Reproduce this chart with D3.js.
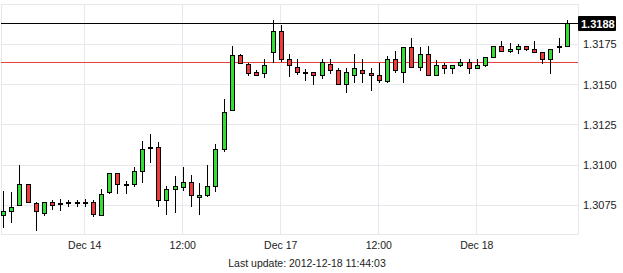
<!DOCTYPE html>
<html>
<head>
<meta charset="utf-8">
<script src="https://cdn.jsdelivr.net/npm/d3@7"></script>
<style>
  body { margin: 0; background: #fff; }
  svg { display: block; font-family: "Liberation Sans", Arial, sans-serif; }
</style>
</head>
<body>
<svg id="chart" width="623" height="273"></svg>
<script>
// hourly candles, Dec 13 14:00 .. Dec 18 11:00 (weekend gap removed)
const opens = [
  1.30688, 1.30713, 1.30750, 1.30880, 1.30762, 1.30698, 1.30769, 1.30764, 1.30766, 1.30766,
  1.30766, 1.30769, 1.30688, 1.30828, 1.30949, 1.30880, 1.30880, 1.30963, 1.31100, 1.31112,
  1.30781, 1.30849, 1.30862, 1.30889, 1.30800, 1.30812, 1.30868, 1.31098, 1.31340, 1.31682,
  1.31626, 1.31576, 1.31570, 1.31700, 1.31830, 1.31657, 1.31607, 1.31576, 1.31572, 1.31557,
  1.31626, 1.31589, 1.31502, 1.31557, 1.31589, 1.31570, 1.31557, 1.31518, 1.31657, 1.31576,
  1.31731, 1.31607, 1.31688, 1.31556, 1.31620, 1.31601, 1.31620, 1.31636, 1.31601, 1.31620,
  1.31669, 1.31735, 1.31707, 1.31719, 1.31735, 1.31719, 1.31700, 1.31657, 1.31739, 1.31739];
const highs = [
  1.30839, 1.30833, 1.31000, 1.30880, 1.30772, 1.30769, 1.30783, 1.30787, 1.30783, 1.30783,
  1.30787, 1.30783, 1.30851, 1.30949, 1.30949, 1.30901, 1.30988, 1.31149, 1.31193, 1.31143,
  1.30872, 1.30934, 1.30990, 1.30938, 1.30889, 1.31000, 1.31131, 1.31410, 1.31739, 1.31690,
  1.31634, 1.31590, 1.31659, 1.31901, 1.31870, 1.31690, 1.31657, 1.31598, 1.31572, 1.31657,
  1.31657, 1.31601, 1.31601, 1.31690, 1.31657, 1.31601, 1.31636, 1.31677, 1.31708, 1.31731,
  1.31789, 1.31735, 1.31739, 1.31652, 1.31636, 1.31620, 1.31657, 1.31657, 1.31657, 1.31669,
  1.31735, 1.31769, 1.31756, 1.31752, 1.31735, 1.31769, 1.31700, 1.31719, 1.31787, 1.31901];
const lows = [
  1.30611, 1.30642, 1.30750, 1.30766, 1.30592, 1.30685, 1.30721, 1.30717, 1.30741, 1.30741,
  1.30741, 1.30676, 1.30688, 1.30822, 1.30822, 1.30822, 1.30866, 1.30887, 1.31015, 1.30741,
  1.30688, 1.30704, 1.30841, 1.30741, 1.30688, 1.30803, 1.30833, 1.31083, 1.31340, 1.31628,
  1.31555, 1.31557, 1.31543, 1.31632, 1.31638, 1.31544, 1.31562, 1.31524, 1.31495, 1.31533,
  1.31564, 1.31502, 1.31446, 1.31512, 1.31508, 1.31462, 1.31512, 1.31508, 1.31570, 1.31512,
  1.31607, 1.31586, 1.31557, 1.31556, 1.31564, 1.31564, 1.31607, 1.31564, 1.31595, 1.31607,
  1.31663, 1.31707, 1.31694, 1.31688, 1.31707, 1.31694, 1.31626, 1.31564, 1.31694, 1.31739];
const closes = [
  1.30713, 1.30738, 1.30880, 1.30766, 1.30710, 1.30769, 1.30750, 1.30764, 1.30766, 1.30766,
  1.30766, 1.30690, 1.30818, 1.30949, 1.30880, 1.30880, 1.30963, 1.31098, 1.31112, 1.30781,
  1.30849, 1.30870, 1.30889, 1.30812, 1.30814, 1.30870, 1.31094, 1.31328, 1.31682, 1.31628,
  1.31570, 1.31557, 1.31620, 1.31830, 1.31657, 1.31620, 1.31576, 1.31576, 1.31557, 1.31636,
  1.31589, 1.31502, 1.31576, 1.31601, 1.31570, 1.31557, 1.31526, 1.31657, 1.31589, 1.31731,
  1.31607, 1.31688, 1.31557, 1.31620, 1.31601, 1.31620, 1.31636, 1.31601, 1.31620, 1.31669,
  1.31735, 1.31707, 1.31719, 1.31735, 1.31719, 1.31698, 1.31657, 1.31719, 1.31739, 1.31880];

const yTicks = [1.3075, 1.3100, 1.3125, 1.3150, 1.3175];
const xTickIndex = [10, 22, 34, 46, 58];
const xTickLabels = ["Dec 14", "12:00", "Dec 17", "12:00", "Dec 18"];
const refLevel = 1.31638;
const lastUpdate = "Last update: 2012-12-18 11:44:03";

const candles = opens.map((o, i) => ({ i, o, h: highs[i], l: lows[i], c: closes[i] }));
const lastPrice = closes[closes.length - 1];

const plotLeft = 1, plotRight = 578, plotTop = 4, plotBottom = 234;

const svg = d3.select("#chart");

const x = d3.scaleLinear().domain([0, candles.length - 1]).range([3.5, 567.2]);
const y = d3.scaleLinear().domain([1.30572, 1.3200]).range([plotBottom, plotTop]);

const px = v => Math.floor(v) + 0.5;
const gridColor = "#e6e8ee";

// frame + grid
svg.append("rect")
    .attr("x", plotLeft + 0.5).attr("y", plotTop + 0.5)
    .attr("width", plotRight - plotLeft).attr("height", plotBottom - plotTop)
    .attr("fill", "none").attr("stroke", gridColor);

svg.append("g").selectAll("line")
    .data(yTicks)
  .join("line")
    .attr("x1", plotLeft).attr("x2", plotRight)
    .attr("y1", d => px(y(d))).attr("y2", d => px(y(d)))
    .attr("stroke", gridColor);

svg.append("g").selectAll("line")
    .data(xTickIndex)
  .join("line")
    .attr("x1", d => px(x(d)) - 1).attr("x2", d => px(x(d)) - 1)
    .attr("y1", plotTop).attr("y2", plotBottom)
    .attr("stroke", gridColor);

// axes (labels only)
const yAxis = d3.axisRight(y).tickValues(yTicks).tickSize(0).tickPadding(5)
    .tickFormat(d3.format(".4f"));
svg.append("g")
    .attr("transform", `translate(${plotRight},0)`)
    .call(yAxis)
    .call(g => g.select(".domain").remove())
    .call(g => g.selectAll("text").attr("fill", "#222").style("font-size", "11px"));

const xAxis = d3.axisBottom(x).tickValues(xTickIndex).tickSize(0).tickPadding(8)
    .tickFormat((d, i) => xTickLabels[i]);
svg.append("g")
    .attr("transform", `translate(-1,${plotBottom})`)
    .call(xAxis)
    .call(g => g.select(".domain").remove())
    .call(g => g.selectAll("text").attr("fill", "#222").style("font-size", "10.5px"));

// reference line
svg.append("line")
    .attr("x1", plotLeft).attr("x2", plotRight)
    .attr("y1", px(y(refLevel))).attr("y2", px(y(refLevel)))
    .attr("stroke", "#e8403f");

// candles
const cg = svg.append("g");
cg.selectAll("line.wick")
    .data(candles)
  .join("line")
    .attr("class", "wick")
    .attr("x1", d => px(x(d.i))).attr("x2", d => px(x(d.i)))
    .attr("y1", d => Math.round(y(d.h))).attr("y2", d => Math.round(y(d.l)))
    .attr("stroke", "#000");

cg.selectAll("rect.body")
    .data(candles)
  .join("rect")
    .attr("class", "body")
    .attr("x", d => px(x(d.i)) - 2)
    .attr("width", 4)
    .attr("y", d => px(y(Math.max(d.o, d.c))))
    .attr("height", d => Math.max(1, px(y(Math.min(d.o, d.c))) - px(y(Math.max(d.o, d.c)))))
    .attr("fill", d => d.c > d.o ? "#33dd33" : d.c < d.o ? "#f03a3a" : "#000")
    .attr("stroke", "#000");

// last price line + label
const ly = px(y(lastPrice));
svg.append("line")
    .attr("x1", plotLeft).attr("x2", plotRight)
    .attr("y1", ly).attr("y2", ly)
    .attr("stroke", "#000");
svg.append("rect")
    .attr("x", plotRight).attr("y", ly - 7.5)
    .attr("width", 38).attr("height", 15)
    .attr("rx", 1)
    .attr("fill", "#000");
svg.append("text")
    .attr("x", plotRight + 3).attr("y", ly + 4)
    .attr("fill", "#fff")
    .style("font-size", "11px").style("font-weight", "bold")
    .text(d3.format(".4f")(lastPrice));

svg.append("text")
    .attr("x", 307).attr("y", 267)
    .attr("text-anchor", "middle")
    .attr("fill", "#222")
    .style("font-size", "10.5px")
    .text(lastUpdate);
</script>
</body>
</html>
